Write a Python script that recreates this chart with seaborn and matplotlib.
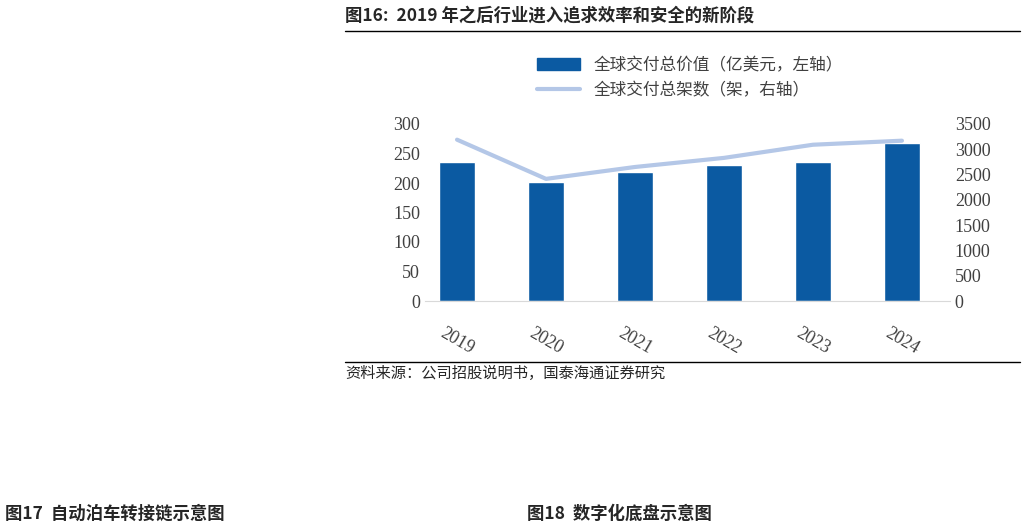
import matplotlib
matplotlib.use("Agg")
import matplotlib.pyplot as plt
import seaborn as sns
import pandas as pd

years = ["2019", "2020", "2021", "2022", "2023", "2024"]
value_usd_100m = [236, 202, 218, 231, 236, 268]
units = [3190, 2415, 2650, 2830, 3090, 3170]

sns.set_style("white")
plt.rcParams['font.family'] = ['Noto Sans CJK SC', 'DejaVu Sans']

W, H = 1029, 522
fig = plt.figure(figsize=(W / 100, H / 100), dpi=100)
ax = fig.add_axes([425 / W, 1 - 301 / H, (950 - 425) / W, (301 - 124) / H])

df = pd.DataFrame({"year": years, "value": value_usd_100m})
sns.barplot(data=df, x="year", y="value", color="#0b5aa2", width=0.4, ax=ax, saturation=1)
ax.set_ylim(0, 300)
ax.set_yticks(range(0, 301, 50))
ax.set_xlim(-0.36, 5.54)
ax2 = ax.twinx()
sns.lineplot(x=range(len(years)), y=units, ax=ax2, color="#b4c7e7", linewidth=3, legend=False)
ax2.set_ylim(0, 3500)
ax2.set_yticks(range(0, 3501, 500))
serif = "Liberation Serif"
for a in (ax, ax2):
    a.set_xlabel("")
    a.set_ylabel("")
    for s in a.spines.values():
        s.set_visible(False)
    a.tick_params(length=0, labelsize=13, labelcolor="#404040")
    for t in a.get_yticklabels():
        t.set_family(serif)
ax.spines["bottom"].set_visible(True)
ax.spines["bottom"].set_color("#d9d9d9")
ax.set_xticks(range(len(years)))
ax.set_xticklabels(years, rotation=-30, ha="center", fontsize=13, color="#404040", family=serif)
ax.tick_params(axis="x", pad=17)

handles = [plt.Rectangle((0, 0), 1, 1, color="#0b5aa2"),
           plt.Line2D([], [], color="#b4c7e7", lw=3)]
labels = ["全球交付总价值（亿美元，左轴）", "全球交付总架数（架，右轴）"]
fig.legend(handles, labels, loc="upper left", bbox_to_anchor=(522 / W, 1 - 42 / H),
           frameon=False, fontsize=12, handlelength=2.6, labelspacing=0.5,
           labelcolor="#404040")

fig.text(345 / W, 1 - 16 / H, "图16:  2019 年之后行业进入追求效率和安全的新阶段",
         fontsize=12.5, fontweight="bold", va="center")
fig.add_artist(plt.Line2D([345 / W, 1020 / W], [1 - 31 / H] * 2, color="black", lw=1))
fig.add_artist(plt.Line2D([345 / W, 1020 / W], [1 - 362 / H] * 2, color="black", lw=1))
fig.text(345 / W, 1 - 373 / H, "资料来源：公司招股说明书，国泰海通证券研究", fontsize=11, va="center")
fig.text(5 / W, 1 - 514 / H, "图17  自动泊车转接链示意图", fontsize=12.5, fontweight="bold", va="center")
fig.text(527 / W, 1 - 514 / H, "图18  数字化底盘示意图", fontsize=12.5, fontweight="bold", va="center")

fig.savefig("out.png", dpi=100)
